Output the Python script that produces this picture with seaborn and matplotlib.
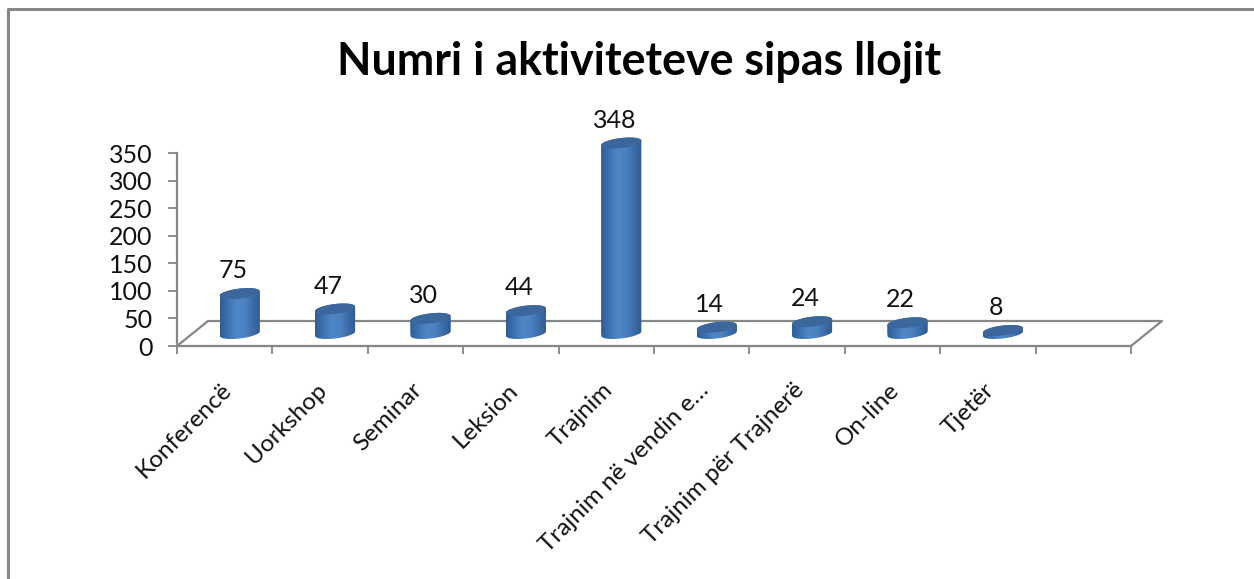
import numpy as np
import pandas as pd
import matplotlib
matplotlib.use('Agg')
import matplotlib.pyplot as plt
import seaborn as sns
from matplotlib.colors import LinearSegmentedColormap
from matplotlib.lines import Line2D
from matplotlib.patches import PathPatch
from matplotlib.path import Path
from matplotlib.transforms import ScaledTranslation

categories = ['Konferencë', 'Uorkshop', 'Seminar', 'Leksion', 'Trajnim',
              'Trajnim në vendin e…', 'Trajnim për Trajnerë', 'On-line', 'Tjetër']
values = [75, 47, 30, 44, 348, 14, 24, 22, 8]
y_ticks = [0, 50, 100, 150, 200, 250, 300, 350]
title = 'Numri i aktiviteteve sipas llojit'

W, H = 1254, 579
GRAY = '#868686'
DARK = '#3b679d'

sns.set_theme(style='white')
plt.rcParams['font.family'] = ['Lato', 'DejaVu Sans']

fig = plt.figure(figsize=(W / 100, H / 100), dpi=100)
ax = fig.add_axes([177 / W, 1 - 346 / H, (1131 - 177) / W, (346 - 153) / H])

df = pd.DataFrame({'type': categories, 'count': values})
sns.barplot(data=df, x='type', y='count', color='#4a7ebb', width=0.42,
            saturation=1, ax=ax)

ax.set_xlim(-0.5, 9.5)
ax.set_ylim(0, 350)
ax.set_xlabel('')
ax.set_ylabel('')

# px to data units
px_x = 10 / (1131 - 177)
px_y = 350 / (346 - 153)

# the floor of the 3d box
depth_x, depth_y = 31 * px_x, 25 * px_y
floor_x = [-0.5, -0.5 + depth_x, 9.5 + depth_x, 9.5]
floor_y = [0, depth_y, depth_y, 0]
ax.plot(floor_x, floor_y, color=GRAY, lw=1.6, clip_on=False, zorder=1)

# cylinder look on top of the seaborn bars
shift_x = 15 * px_x
base_y, top_y = 12.5 * px_y, 11.1 * px_y
ry = 5 * px_y
slope = 2.3 * px_y
t = np.linspace(0, np.pi, 40)
side = LinearSegmentedColormap.from_list(
    'side', ['#2f5d96', '#3f72b0', '#4f86c8', '#4c82c2', '#3c6eaa', '#2f5b90'])
gradient = np.linspace(0, 1, 64)[None, :]

for bar in ax.patches:
    h = bar.get_height()
    bar.set_x(bar.get_x() + shift_x)
    bar.set_y(base_y)
    bar.set_zorder(2)
    bar.set_linewidth(0)
    x0, w = bar.get_x(), bar.get_width()
    cx, rx = x0 + w / 2, w / 2
    top = top_y + h

    arc_x = cx - rx * np.cos(t)
    arc_off = ry * np.sin(t)
    tilt = slope * (arc_x - cx) / rx
    body = np.concatenate([
        np.c_[arc_x, base_y + tilt - arc_off],
        np.c_[arc_x[::-1], top + tilt[::-1] + arc_off[::-1]],
    ])
    clip = PathPatch(Path(np.r_[body, body[:1]]), transform=ax.transData)
    bar.set_clip_box(None)
    bar.set_clip_path(clip)
    im = ax.imshow(gradient, cmap=side, aspect='auto', zorder=3,
                   extent=[x0, x0 + w, base_y - ry - slope, top + ry + slope])
    # image needs the figure box or it gets cut at the axes top
    im.set_clip_box(fig.bbox)
    im.set_clip_path(clip)
    ax.fill(np.r_[arc_x, arc_x[::-1]],
            np.r_[top + tilt + arc_off, (top + tilt - arc_off)[::-1]],
            color=DARK, lw=0, zorder=4, clip_on=False)
    ax.annotate(str(int(h)), (cx, top), xytext=(-5, 16.5), textcoords='offset points',
                ha='center', va='center', fontsize=18, color='#111111', zorder=5,
                annotation_clip=False)

ax.set_xlim(-0.5, 9.5)
ax.set_ylim(0, 350)

sns.despine(ax=ax, top=True, right=True)
ax.spines['left'].set_color(GRAY)
ax.spines['bottom'].set_color(GRAY)
ax.spines['left'].set_linewidth(1.6)
ax.spines['bottom'].set_linewidth(1.6)

ax.set_yticks(y_ticks)
ax.tick_params(axis='y', length=6.5, width=1.3, color=GRAY, labelsize=18,
               labelcolor='#111111', pad=11, left=True)
ax.set_xticks(np.arange(-0.5, 10, 1))
ax.set_xticklabels([])
ax.tick_params(axis='x', which='major', length=5.5, width=1.3, color=GRAY, bottom=True)
ax.set_xticks(np.arange(len(categories)), categories, minor=True, rotation=45,
              ha='right', rotation_mode='anchor', fontsize=17.5, color='#111111')
ax.tick_params(axis='x', which='minor', length=0, pad=24)

# labels sit a bit left of the tick centre
nudge = ScaledTranslation(-4 / 100, 0, fig.dpi_scale_trans)
for label in ax.get_xticklabels(minor=True):
    label.set_transform(label.get_transform() + nudge)

fig.text(639.5 / W, 1 - 62 / H, title, ha='center', va='center', fontsize=32.2,
         fontweight='bold', color='black')

# chart frame, only top and left are inside the crop
fig.add_artist(Line2D([8 / W, 8 / W, 1], [0, 1 - 9 / H, 1 - 9 / H], color=GRAY, lw=2.2))

fig.savefig('out.png', dpi=100, facecolor='white')
